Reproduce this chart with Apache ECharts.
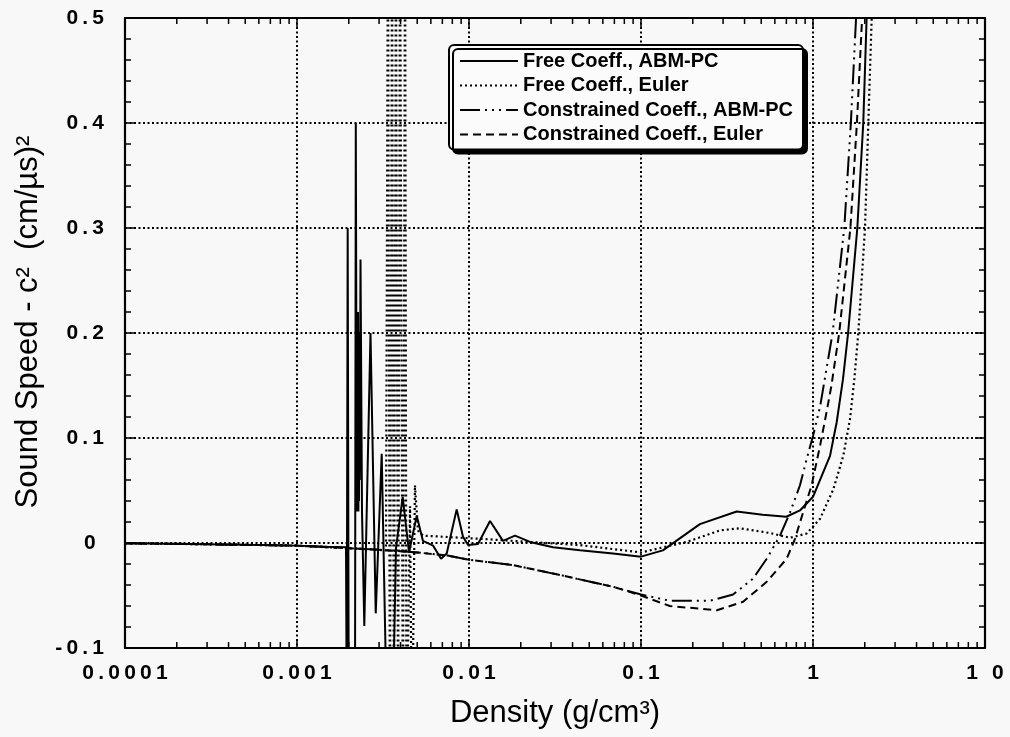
<!DOCTYPE html>
<html>
<head>
<meta charset="utf-8">
<title>Sound Speed vs Density</title>
<script src="https://cdn.jsdelivr.net/npm/echarts@6/dist/echarts.min.js"></script>
<style>
  html, body { margin: 0; padding: 0; background: #f7f8f7; }
  #chart { width: 1010px; height: 737px; }
</style>
</head>
<body>
<div id="chart"></div>
<script>
// Axis ranges and tick labels
const xMin = 0.0001, xMax = 10;
const yMin = -0.1, yMax = 0.5, yStep = 0.1;
const xTickLabels = ['0.0001', '0.001', '0.01', '0.1', '1', '1 0'];
const yTickLabels = ['-0.1', '0', '0.1', '0.2', '0.3', '0.4', '0.5'];
const minorDensityTicks = [
  0.0002, 0.0003, 0.0004, 0.0005, 0.0006, 0.0007, 0.0008, 0.0009,
  0.002, 0.003, 0.004, 0.005, 0.006, 0.007, 0.008, 0.009,
  0.02, 0.03, 0.04, 0.05, 0.06, 0.07, 0.08, 0.09,
  0.2, 0.3, 0.4, 0.5, 0.6, 0.7, 0.8, 0.9,
  2, 3, 4, 5, 6, 7, 8, 9
];

const seriesNames = [
  'Free Coeff., ABM-PC',
  'Free Coeff., Euler',
  'Constrained Coeff., ABM-PC',
  'Constrained Coeff., Euler'
];

// Free coefficients, ABM-PC integration (solid)
const freeAbmDensity = [
  0.0001, 0.0003, 0.001, 0.0015, 0.001927, 0.001945, 0.001971, 0.001998,
  0.002174, 0.002197, 0.002227, 0.00224, 0.00225, 0.002263, 0.002275,
  0.002285, 0.002293, 0.002305, 0.002315, 0.00234, 0.002387,
  0.002462, 0.002675, 0.002869, 0.003108, 0.003314, 0.003615, 0.003763,
  0.004117, 0.00448, 0.004966, 0.0054, 0.00618, 0.00688, 0.00742, 0.00848,
  0.00923, 0.00987, 0.01128, 0.01325, 0.01576, 0.01851, 0.02263, 0.0308,
  0.0442, 0.0687, 0.1, 0.134, 0.22, 0.36, 0.51, 0.70, 0.84, 1.0, 1.256,
  1.373, 1.494, 1.60, 1.81, 1.96, 2.05, 2.15
];
const freeAbmSpeed = [
  -0.0003, -0.0012, -0.0025, -0.0035, -0.004, -0.15, 0.30, -0.15,
  -0.15, 0.40, 0.03, 0.21, 0.05, 0.22, 0.03,
  0.19, 0.04, 0.20, 0.06, 0.27, 0.03,
  -0.079, 0.20, -0.067, 0.085, -0.15, -0.15, -0.005,
  0.044, -0.009, 0.026, 0.002, -0.0025, -0.015, -0.010, 0.032,
  0.006, -0.002, -0.001, 0.021, 0.002, 0.007, 0.001, -0.004,
  -0.007, -0.010, -0.013, -0.007, 0.018, 0.030, 0.027, 0.025, 0.031, 0.044, 0.083,
  0.115, 0.156, 0.2, 0.3, 0.4, 0.5, 0.62
];

// Free coefficients, Euler integration (dotted)
const freeEulerDensity = [
  0.0001, 0.0003, 0.001, 0.002, 0.003, 0.00329, 0.00338, 0.00347, 0.00357,
  0.00366, 0.00376, 0.00387, 0.00397, 0.00413, 0.00425, 0.00433, 0.00454,
  0.00466, 0.00485, 0.00505, 0.0054, 0.0116, 0.0226, 0.0442, 0.1, 0.184,
  0.288, 0.376, 0.562, 0.735, 0.919, 1.098, 1.312, 1.5, 1.641, 1.739, 1.834,
  2.006, 2.097, 2.194, 2.263
];
const freeEulerSpeed = [
  -0.0003, -0.0012, -0.0025, -0.005, -0.0065, -0.007, 0.6, -0.2, 0.6,
  -0.2, 0.6, -0.2, 0.6, -0.2, 0.6, -0.2, 0.035,
  -0.2, 0.055, 0.012, 0.007, 0.004, 0.001, -0.002, -0.009, 0.001,
  0.012, 0.014, 0.0095, 0.005, 0.009, 0.023, 0.051, 0.083, 0.118, 0.156, 0.2,
  0.3, 0.4, 0.5, 0.6
];

// Constrained coefficients, ABM-PC integration (dash-dot)
const consAbmDensity = [
  0.0001, 0.0003, 0.001, 0.002, 0.003, 0.005, 0.0075, 0.01, 0.018, 0.035,
  0.07, 0.1, 0.147, 0.252, 0.343, 0.448, 0.538, 0.643, 0.735, 0.84, 0.919,
  1.0, 1.1, 1.3, 1.52, 1.66, 1.78, 1.9
];
const consAbmSpeed = [
  -0.0003, -0.0012, -0.0025, -0.005, -0.0065, -0.009, -0.012, -0.016, -0.021, -0.031,
  -0.042, -0.049, -0.055, -0.055, -0.049, -0.034, -0.015, 0.007, 0.029, 0.055, 0.080,
  0.102, 0.13, 0.2, 0.3, 0.4, 0.5, 0.62
];

// Constrained coefficients, Euler integration (dashed)
const consEulerDensity = [
  0.0001, 0.0003, 0.001, 0.002, 0.003, 0.005, 0.0075, 0.01, 0.018, 0.035,
  0.07, 0.1, 0.147, 0.276, 0.392, 0.538, 0.703, 0.786, 0.875, 0.982, 1.1,
  1.2, 1.28, 1.42, 1.65, 1.8, 1.93, 2.05
];
const consEulerSpeed = [
  -0.0003, -0.0012, -0.0025, -0.005, -0.0065, -0.009, -0.012, -0.016, -0.021, -0.031,
  -0.042, -0.050, -0.060, -0.064, -0.056, -0.037, -0.015, 0.004, 0.029, 0.055, 0.093,
  0.125, 0.15, 0.2, 0.3, 0.4, 0.5, 0.62
];

const pairs = (xs, ys) => xs.map((x, i) => [x, ys[i]]);
// wide-tracked tick label text: thin space between glyphs
const spaced = s => s.split('').join('\u2009');
const FONT = '"Liberation Sans", Arial, Helvetica, sans-serif';

const xLabel = v => {
  const i = Math.round(Math.log10(v) - Math.log10(xMin));
  return xTickLabels[i] !== undefined ? spaced(xTickLabels[i]) : '';
};
const yLabel = v => {
  const i = Math.round((v - yMin) / yStep);
  const s = yTickLabels[i];
  if (s === undefined) return '';
  return s === '0' ? '0\u2009\u2009' : spaced(s);
};

const gridDots = { color: '#000', width: 2, type: [2, 2.5] };
const frame = { show: true, onZero: false, lineStyle: { color: '#000', width: 2.2 } };
const labelFont = { fontFamily: FONT, fontWeight: 'bold', fontSize: 21, color: '#000' };
const tickLine = { color: '#000', width: 1.5 };

const chart = echarts.init(document.getElementById('chart'), null, { renderer: 'canvas' });

chart.setOption({
  backgroundColor: '#f7f8f7',
  animation: false,
  grid: { left: 125, right: 25, top: 18, bottom: 89, containLabel: false },
  legend: {
    data: seriesNames,
    orient: 'vertical',
    left: 449,
    top: 45,
    padding: [6, 10, 5, 10],
    itemGap: 4.5,
    itemWidth: 58,
    itemHeight: 14,
    itemStyle: { opacity: 0 },
    backgroundColor: '#fafbfa',
    borderColor: '#000',
    borderWidth: 2,
    borderRadius: 5,
    shadowColor: '#000',
    shadowBlur: 0,
    shadowOffsetX: 4,
    shadowOffsetY: 4,
    textStyle: { fontFamily: FONT, fontWeight: 'bold', fontSize: 20, color: '#000' },
    selectedMode: false
  },
  xAxis: [
    {
      type: 'log', logBase: 10, min: xMin, max: xMax,
      position: 'bottom',
      name: 'Density (g/cm\u00B3)',
      nameLocation: 'middle', nameGap: 50,
      nameTextStyle: { fontFamily: FONT, fontSize: 31, color: '#000' },
      axisLine: frame,
      axisTick: { show: true, inside: true, length: 9, lineStyle: tickLine },
      axisLabel: Object.assign({ margin: 15, showMinLabel: true, showMaxLabel: true, formatter: xLabel }, labelFont),
      splitLine: { show: true, lineStyle: gridDots }
    },
    {
      type: 'log', logBase: 10, min: xMin, max: xMax,
      position: 'top',
      axisLine: frame,
      axisTick: { show: true, inside: true, length: 9, lineStyle: tickLine },
      axisLabel: { show: false },
      splitLine: { show: false }
    }
  ],
  yAxis: [
    {
      type: 'value', min: yMin, max: yMax, interval: yStep,
      position: 'left',
      name: 'Sound Speed - c\u00B2  (cm/\u00B5s)\u00B2',
      nameLocation: 'middle', nameGap: 78,
      nameTextStyle: { fontFamily: FONT, fontSize: 31, color: '#000', padding: [0, 0, 0, 22] },
      axisLine: frame,
      axisTick: { show: true, inside: true, length: 10, lineStyle: tickLine },
      minorTick: { show: true, splitNumber: 5, length: 6, lineStyle: tickLine },
      axisLabel: Object.assign({ margin: 21, formatter: yLabel }, labelFont),
      splitLine: { show: true, lineStyle: gridDots }
    },
    {
      type: 'value', min: yMin, max: yMax, interval: yStep,
      position: 'right',
      axisLine: frame,
      axisTick: { show: true, inside: true, length: 10, lineStyle: tickLine },
      minorTick: { show: true, splitNumber: 5, length: 6, lineStyle: tickLine },
      axisLabel: { show: false },
      splitLine: { show: false }
    }
  ],
  series: [
    {
      name: seriesNames[3], type: 'line', symbol: 'none', z: 3,
      data: pairs(consEulerDensity, consEulerSpeed),
      lineStyle: { color: '#000', width: 2, type: [8, 5] },
      itemStyle: { color: '#000' }
    },
    {
      name: seriesNames[2], type: 'line', symbol: 'none', z: 3,
      data: pairs(consAbmDensity, consAbmSpeed),
      lineStyle: { color: '#000', width: 2, type: [20, 5, 2, 5, 2, 5, 2, 5] },
      itemStyle: { color: '#000' }
    },
    {
      name: seriesNames[1], type: 'line', symbol: 'none', z: 3,
      data: pairs(freeEulerDensity, freeEulerSpeed),
      lineStyle: { color: '#000', width: 2.2, type: [2, 3] },
      itemStyle: { color: '#000' }
    },
    {
      name: seriesNames[0], type: 'line', symbol: 'none', z: 4,
      data: pairs(freeAbmDensity, freeAbmSpeed),
      lineStyle: { color: '#000', width: 2, type: 'solid' },
      itemStyle: { color: '#000' }
    },
    {
      // log minor ticks along the bottom and top edges of the frame
      name: 'minorTicks', type: 'custom', silent: true, z: 5,
      data: minorDensityTicks.map(v => [v, yMin]),
      renderItem: (params, api) => {
        const v = api.value(0);
        const b = api.coord([v, yMin]);
        const t = api.coord([v, yMax]);
        const st = { stroke: '#000', lineWidth: 1.5 };
        return {
          type: 'group',
          children: [
            { type: 'line', shape: { x1: b[0], y1: b[1], x2: b[0], y2: b[1] - 6 }, style: st },
            { type: 'line', shape: { x1: t[0], y1: t[1], x2: t[0], y2: t[1] + 6 }, style: st }
          ]
        };
      }
    }
  ]
});
</script>
</body>
</html>
